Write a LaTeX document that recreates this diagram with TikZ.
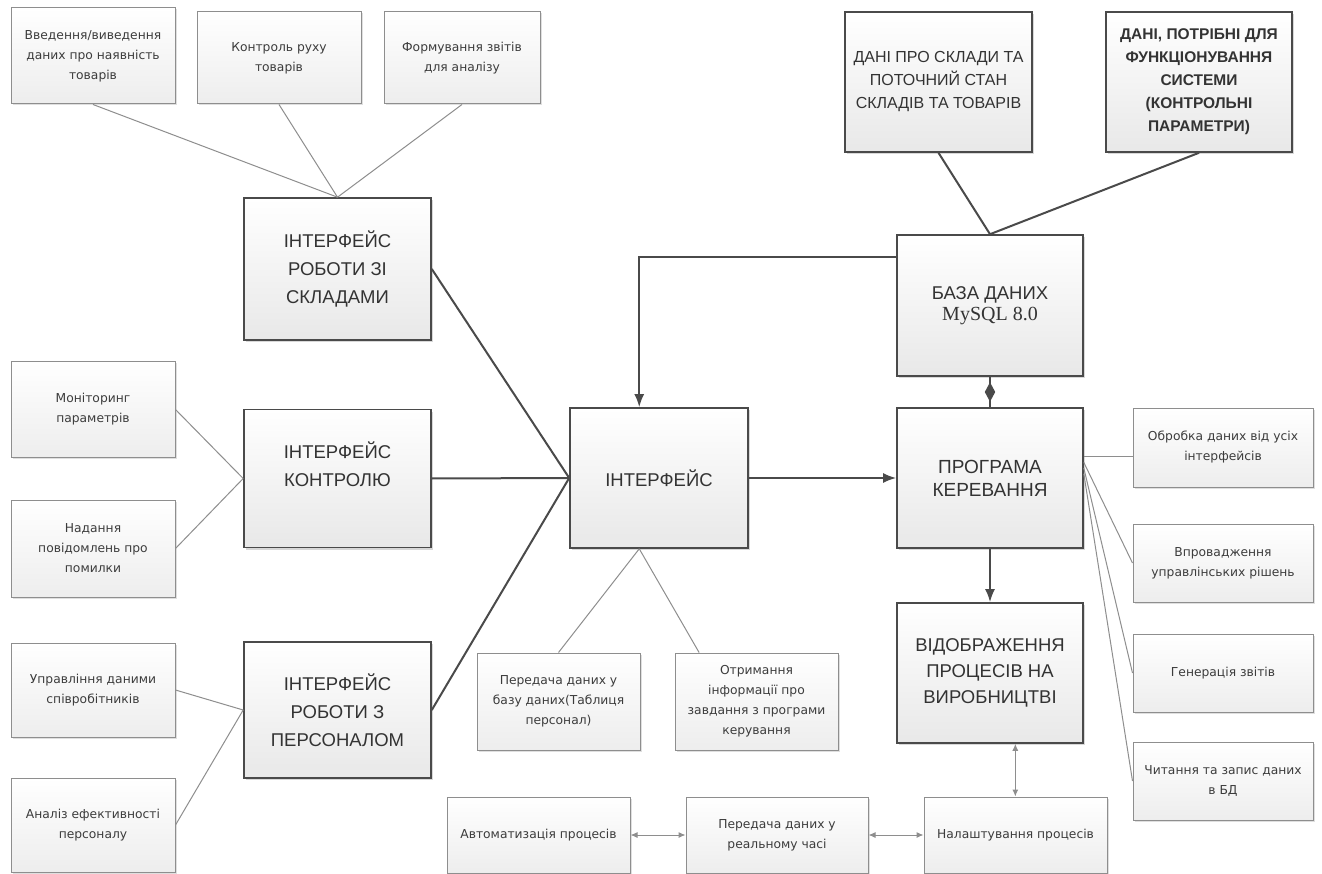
\documentclass[tikz,border=0pt]{standalone}
\usepackage{fontspec}
\setmainfont{Liberation Sans}
\newfontfamily\notefont{DejaVu Sans}
\newfontfamily\dbserif{Liberation Serif}
\usetikzlibrary{arrows.meta,shadows,shapes.geometric,calc}
\definecolor{edge}{HTML}{4A4A4A}
\definecolor{thinedge}{HTML}{8E8E8E}
\definecolor{ink}{HTML}{333333}
\definecolor{noteink}{HTML}{3C3C3C}

\begin{document}
\begin{tikzpicture}[x=1pt,y=-1pt,
  dims/.style 2 args={minimum width=#1pt, minimum height=#2pt},
  mainbox/.style={draw=edge, line width=1.6pt, top color=white, bottom color=black!9,
    drop shadow={opacity=0.3, shadow xshift=2pt, shadow yshift=-2pt},
    align=center, text=ink, inner sep=2pt,
    font=\fontsize{18.5}{28}\selectfont},
  notebox/.style={draw=thinedge, line width=1pt, top color=white, bottom color=black!7,
    drop shadow={opacity=0.25, shadow xshift=1.5pt, shadow yshift=-1.5pt},
    align=center, text=noteink, inner sep=2pt,
    font=\notefont\fontsize{12.3}{20}\selectfont},
  link/.style={draw=edge, line width=2pt},
  thinlink/.style={draw=thinedge, line width=1pt},
  flow/.style={link, -{Latex[length=13pt,width=10pt]}},
  twoway/.style={thinlink, {Latex[length=7pt,width=6pt]}-{Latex[length=7pt,width=6pt]}},
  joint/.style={diamond, fill=edge, draw=edge, inner sep=0pt, minimum width=9pt, minimum height=16pt},
]
\fill[white] (0,0) rectangle (1322,874);
\useasboundingbox (0,0) rectangle (1322,874);

% warehouse interface and its tasks
\node[notebox, dims={164}{96}] (B1) at (93,56) {Введення/виведення\\даних про наявність\\товарів};
\node[notebox, dims={164}{92}] (B2) at (279,58) {Контроль руху\\товарів};
\node[notebox, dims={156}{92}] (B3) at (462,58) {Формування звітів\\для аналізу};
\node[mainbox, dims={187}{142}] (IW) at (337.5,269) {ІНТЕРФЕЙС\\РОБОТИ ЗІ\\СКЛАДАМИ};

% control interface
\node[notebox, dims={164}{95}] (M1) at (93,409.5) {Моніторинг\\параметрів};
\node[notebox, dims={164}{97}] (M2) at (93,548.5) {Надання\\повідомлень про\\помилки};
\node[mainbox, dims={187}{138}] (IC) at (337.5,478.5) {ІНТЕРФЕЙС\\КОНТРОЛЮ\\~};

% personnel interface
\node[notebox, dims={164}{94}] (U1) at (93,690) {Управління даними\\співробітників};
\node[notebox, dims={164}{94}] (U2) at (93,825) {Аналіз ефективності\\персоналу};
\node[mainbox, dims={187}{136}] (IP) at (337.5,710) {ІНТЕРФЕЙС\\РОБОТИ З\\ПЕРСОНАЛОМ};

% common interface
\node[mainbox, dims={178}{140}] (I) at (659,478) {ІНТЕРФЕЙС};
\node[notebox, dims={163}{97}] (T1) at (558.5,701.5) {Передача даних у\\базу даних(Таблиця\\персонал)};
\node[notebox, dims={163}{97}] (T2) at (756.5,701.5) {Отримання\\інформації про\\завдання з програми\\керування};

% database and stored data
\node[mainbox, dims={187}{140}, font=\fontsize{16}{23}\selectfont] (D1) at (938.5,82) {ДАНІ ПРО СКЛАДИ ТА\\ПОТОЧНИЙ СТАН\\СКЛАДІВ ТА ТОВАРІВ};
\node[mainbox, dims={186}{140}, font=\bfseries\fontsize{15.5}{23}\selectfont] (D2) at (1199,82) {ДАНІ, ПОТРІБНІ ДЛЯ\\ФУНКЦІОНУВАННЯ\\СИСТЕМИ\\(КОНТРОЛЬНІ\\ПАРАМЕТРИ)};
\node[mainbox, dims={186}{141}, font=\fontsize{18.5}{21}\selectfont] (BD) at (990,305.5) {БАЗА ДАНИХ\\{\dbserif\fontsize{20}{21}\selectfont MySQL 8.0}};

% control program and production view
\node[mainbox, dims={186}{140}, font=\fontsize{19}{23}\selectfont] (PK) at (990,478) {ПРОГРАМА\\КЕРЕВАННЯ};
\node[mainbox, dims={186}{140}, font=\fontsize{18.5}{26}\selectfont] (VP) at (990,673) {ВІДОБРАЖЕННЯ\\ПРОЦЕСІВ НА\\ВИРОБНИЦТВІ};

% control program functions
\node[notebox, dims={180}{79}] (R1) at (1223,447.5) {Обробка даних від усіх\\інтерфейсів};
\node[notebox, dims={180}{78}] (R2) at (1223,563) {Впровадження\\управлінських рішень};
\node[notebox, dims={180}{78}] (R3) at (1223,673) {Генерація звітів};
\node[notebox, dims={180}{78}] (R4) at (1223,781) {Читання та запис даних\\в БД};

% real-time process chain
\node[notebox, dims={183}{76}] (A) at (538.5,835) {Автоматизація процесів};
\node[notebox, dims={182}{76}] (P) at (777,835) {Передача даних у\\реальному часі};
\node[notebox, dims={183}{76}] (NP) at (1015.5,835) {Налаштування процесів};

% anchor points on box edges
\coordinate (Itop) at ($(I.north west)!0.39!(I.north east)$);
\coordinate (Ibot) at ($(I.south west)!0.39!(I.south east)$);
\coordinate (T2top) at ($(T2.north west)!0.15!(T2.north east)$);
\coordinate (BDout) at ($(BD.north west)!0.16!(BD.south west)$);
\coordinate (PKr1) at ($(PK.north east)!0.35!(PK.south east)$);
\coordinate (PKr2) at ($(PK.north east)!0.39!(PK.south east)$);
\coordinate (PKr3) at ($(PK.north east)!0.43!(PK.south east)$);
\coordinate (PKr4) at ($(PK.north east)!0.47!(PK.south east)$);
\coordinate (VPbot) at ($(VP.south west)!0.635!(VP.south east)$);

% thin links to task boxes
\draw[thinlink] (B1.south) -- (IW.north);
\draw[thinlink] (B2.south) -- (IW.north);
\draw[thinlink] (B3.south) -- (IW.north);
\draw[thinlink] (M1.east) -- (IC.west);
\draw[thinlink] (M2.east) -- (IC.west);
\draw[thinlink] (U1.east) -- (IP.west);
\draw[thinlink] (U2.east) -- (IP.west);
\draw[thinlink] (T1.north) -- (Ibot);
\draw[thinlink] (T2top) -- (Ibot);
\draw[thinlink] (PKr1) -- (PKr1 -| R1.west);
\draw[thinlink] (PKr2) -- (R2.west);
\draw[thinlink] (PKr3) -- (R3.west);
\draw[thinlink] (PKr4) -- (R4.west);

% interfaces into the common interface
\draw[link] (IW.east) -- (I.west);
\draw[link] (IC.east) -- (I.west);
\draw[link] (IP.east) -- (I.west);

% data links
\draw[link] (D1.south) -- (BD.north);
\draw[link] (D2.south) -- (BD.north);
\draw[flow] (BDout) -| (Itop);
\draw[flow] (I.east) -- (PK.west);
\draw[link] (BD.south) -- (PK.north) node[joint, midway] (BDPK) {};
\draw[flow] (PK.south) -- (VP.north);

% two-way process links
\draw[twoway] (VPbot) -- (VPbot |- NP.north);
\draw[twoway] (A.east) -- (P.west);
\draw[twoway] (P.east) -- (NP.west);
\end{tikzpicture}
\end{document}
